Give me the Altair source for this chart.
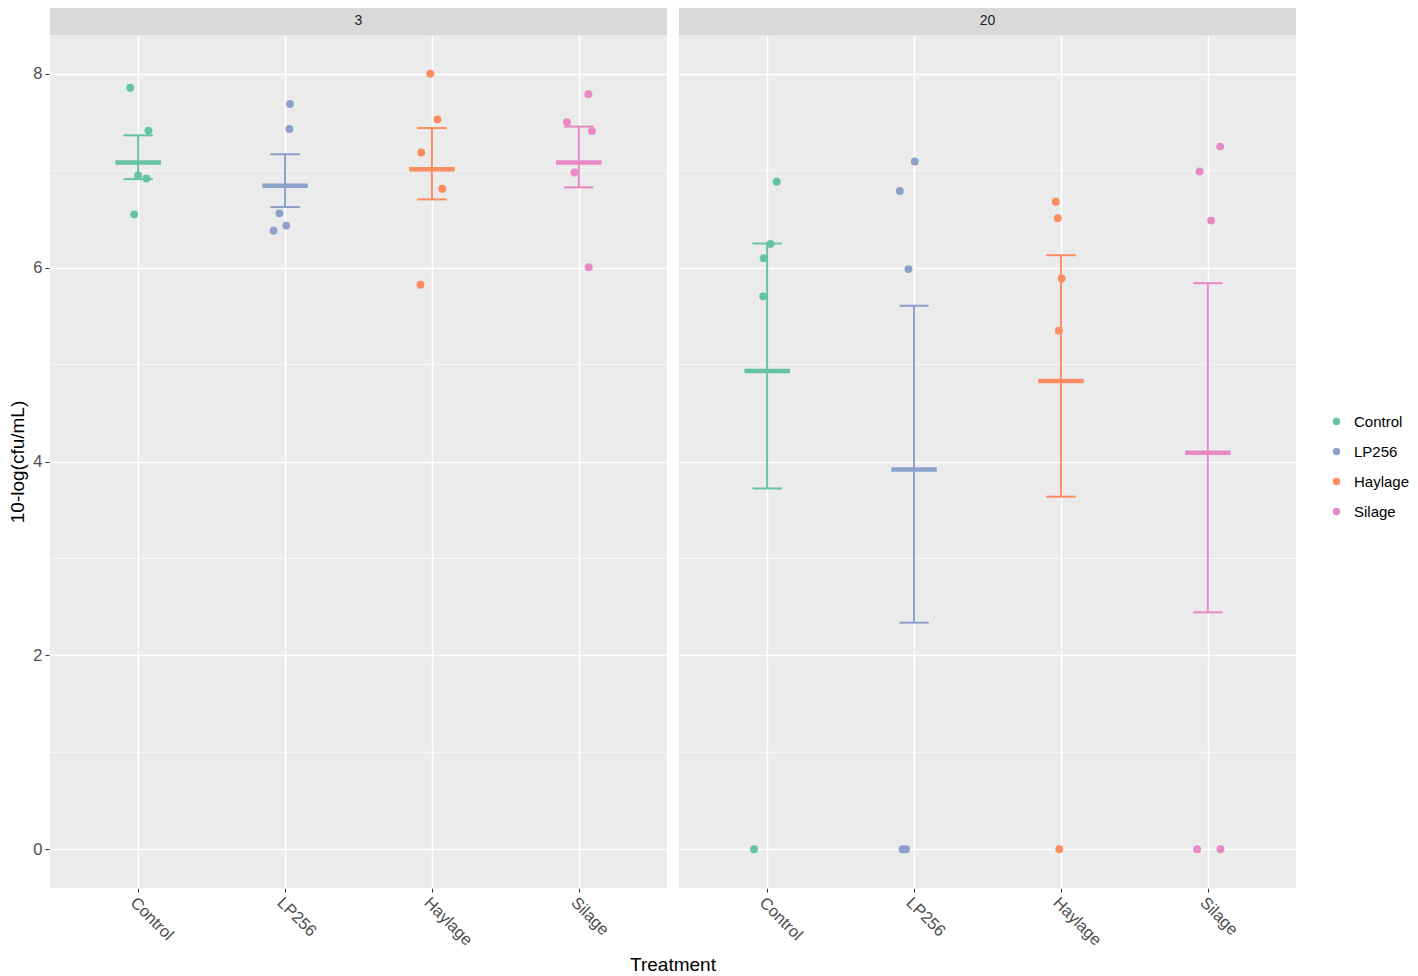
import altair as alt
import pandas as pd

treatments = ["Control", "LP256", "Haylage", "Silage"]
colors = ["#66C2A5", "#8DA0CB", "#FC8D62", "#E78AC3"]
days = [3, 20]

# observed values per day / treatment (5 replicates each)
values = {
    3: {
        "Control": [7.856, 7.414, 6.951, 6.920, 6.550],
        "LP256":   [7.688, 7.430, 6.560, 6.434, 6.380],
        "Haylage": [8.000, 7.530, 7.188, 6.814, 5.823],
        "Silage":  [7.790, 7.500, 7.410, 6.982, 6.005],
    },
    20: {
        "Control": [6.886, 6.245, 6.098, 5.704, 0.0],
        "LP256":   [7.095, 6.790, 5.985, 0.0, 0.0],
        "Haylage": [6.680, 6.509, 5.889, 5.350, 0.0],
        "Silage":  [7.249, 6.992, 6.485, 0.0, 0.0],
    },
}
# horizontal jitter of each point (category units)
jitter = {
    3: {
        "Control": [-0.054, 0.070, 0.000, 0.056, -0.027],
        "LP256":   [0.033, 0.030, -0.038, 0.008, -0.078],
        "Haylage": [-0.011, 0.038, -0.073, 0.070, -0.078],
        "Silage":  [0.065, -0.081, 0.089, -0.030, 0.067],
    },
    20: {
        "Control": [0.065, 0.022, -0.024, -0.027, -0.089],
        "LP256":   [0.005, -0.097, -0.038, -0.078, -0.054],
        "Haylage": [-0.035, -0.022, 0.005, -0.014, -0.011],
        "Silage":  [0.084, -0.056, 0.022, -0.073, 0.086],
    },
}
# summary: mean and error-bar limits
means = {3: [7.085, 6.845, 7.016, 7.085], 20: [4.933, 3.918, 4.830, 4.089]}
upper = {3: [7.365, 7.170, 7.440, 7.455], 20: [6.249, 5.607, 6.128, 5.840]}
lower = {3: [6.913, 6.625, 6.704, 6.828], 20: [3.722, 2.337, 3.637, 2.444]}

major_ticks = [0, 2, 4, 6, 8]
minor_ticks = [1, 3, 5, 7]

rows = []
for d in days:
    for i, t in enumerate(treatments):
        for v, j in zip(values[d][t], jitter[d][t]):
            rows.append({"kind": "pt", "day": d, "treatment": t, "idx": i + 1,
                         "value": v, "jit": j})
        rows.append({"kind": "sum", "day": d, "treatment": t, "idx": i + 1,
                     "mean": means[d][i], "hi": upper[d][i], "lo": lower[d][i]})
    for g in minor_ticks:
        rows.append({"kind": "grid", "day": d, "gy": g})
    rows.append({"kind": "strip", "day": d})
df = pd.DataFrame(rows)

W = 617
H = 853
FONT = "Liberation Sans"

label_expr = "[" + ",".join("'%s'" % t for t in treatments) + "][datum.value - 1]"

xscale = alt.Scale(domain=[0.4, 4.6], nice=False, zero=False)
yscale = alt.Scale(domain=[-0.4, 8.4], nice=False, zero=False)
cscale = alt.Scale(domain=treatments, range=colors)

xaxis = alt.Axis(values=[1, 2, 3, 4], labelExpr=label_expr, title=None,
                 labelAngle=45, labelAlign="left", labelBaseline="top",
                 labelFontSize=16.5, labelColor="#4D4D4D", labelFont=FONT,
                 tickColor="#333333", tickSize=4, domain=False,
                 grid=True, gridColor="white", gridWidth=1.5, labelPadding=2)
yaxis = alt.Axis(values=major_ticks, title="10-log(cfu/mL)",
                 titleFontSize=19, titleFontWeight="normal", titleColor="black",
                 titleFont=FONT, labelFontSize=16.5, labelColor="#4D4D4D",
                 labelFont=FONT, tickColor="#333333", tickSize=4, domain=False,
                 grid=True, gridColor="white", gridWidth=1.5, titlePadding=5,
                 labelPadding=3)

legend = alt.Legend(title=None, labelFontSize=15, labelFont=FONT,
                    labelColor="black", symbolSize=55, symbolType="circle",
                    symbolStrokeWidth=0, labelOffset=10, rowPadding=14,
                    orient="none", legendX=1279, legendY=379, padding=0)
color_enc = alt.Color("treatment:N", scale=cscale, legend=legend)

minor = alt.Chart().transform_filter("datum.kind == 'grid'").mark_rule(
    color="white", strokeWidth=0.7
).encode(
    y=alt.Y("gy:Q", scale=yscale, axis=yaxis),
    x=alt.value(0), x2=alt.value(W),
)

strip = alt.Chart().transform_filter("datum.kind == 'strip'").mark_rect(
    color="#D9D9D9", clip=False
).encode(x=alt.value(0), x2=alt.value(W), y=alt.value(-29), y2=alt.value(0))

strip_text = alt.Chart().transform_filter("datum.kind == 'strip'").mark_text(
    fontSize=14, font=FONT, color="#1A1A1A", baseline="middle", clip=False
).encode(x=alt.value(W / 2), y=alt.value(-14.5), text="day:N")

summ = alt.Chart().transform_filter("datum.kind == 'sum'")

ebar = summ.mark_rule(strokeWidth=2).encode(
    x=alt.X("idx:Q", scale=xscale, axis=xaxis),
    y=alt.Y("lo:Q", scale=yscale, axis=yaxis),
    y2="hi:Q",
    color=color_enc,
)
caps_hi = summ.transform_calculate(a="datum.idx - 0.1", b="datum.idx + 0.1").mark_rule(
    strokeWidth=2
).encode(
    x=alt.X("a:Q", scale=xscale, axis=xaxis), x2="b:Q",
    y=alt.Y("hi:Q", scale=yscale, axis=yaxis),
    color=color_enc,
)
caps_lo = summ.transform_calculate(a="datum.idx - 0.1", b="datum.idx + 0.1").mark_rule(
    strokeWidth=2
).encode(
    x=alt.X("a:Q", scale=xscale, axis=xaxis), x2="b:Q",
    y=alt.Y("lo:Q", scale=yscale, axis=yaxis),
    color=color_enc,
)
mean_bar = summ.transform_calculate(a="datum.idx - 0.155", b="datum.idx + 0.155").mark_rule(
    strokeWidth=4.5
).encode(
    x=alt.X("a:Q", scale=xscale, axis=xaxis), x2="b:Q",
    y=alt.Y("mean:Q", scale=yscale, axis=yaxis),
    color=color_enc,
)

points = alt.Chart().transform_filter("datum.kind == 'pt'").transform_calculate(
    xj="datum.idx + datum.jit"
).mark_circle(size=62, opacity=1).encode(
    x=alt.X("xj:Q", scale=xscale, axis=xaxis),
    y=alt.Y("value:Q", scale=yscale, axis=yaxis),
    color=color_enc,
)

layered = alt.layer(minor, strip, strip_text, ebar, caps_hi, caps_lo, mean_bar,
                    points, data=df).properties(width=W, height=H)

chart = layered.facet(
    column=alt.Column("day:O", sort=days,
                      header=alt.Header(labels=False, title="Treatment",
                                        titleOrient="bottom", titleFontSize=19,
                                        titleFont=FONT, titleColor="black",
                                        titleFontWeight="normal", titlePadding=-3)),
    spacing=10,
).properties(
    padding={"top": -2, "left": 0, "right": 0, "bottom": 0}
).configure_view(fill="#EBEBEB", strokeOpacity=0, strokeWidth=0)

chart.save("out.html", embed_options={"renderer": "svg", "actions": False})
